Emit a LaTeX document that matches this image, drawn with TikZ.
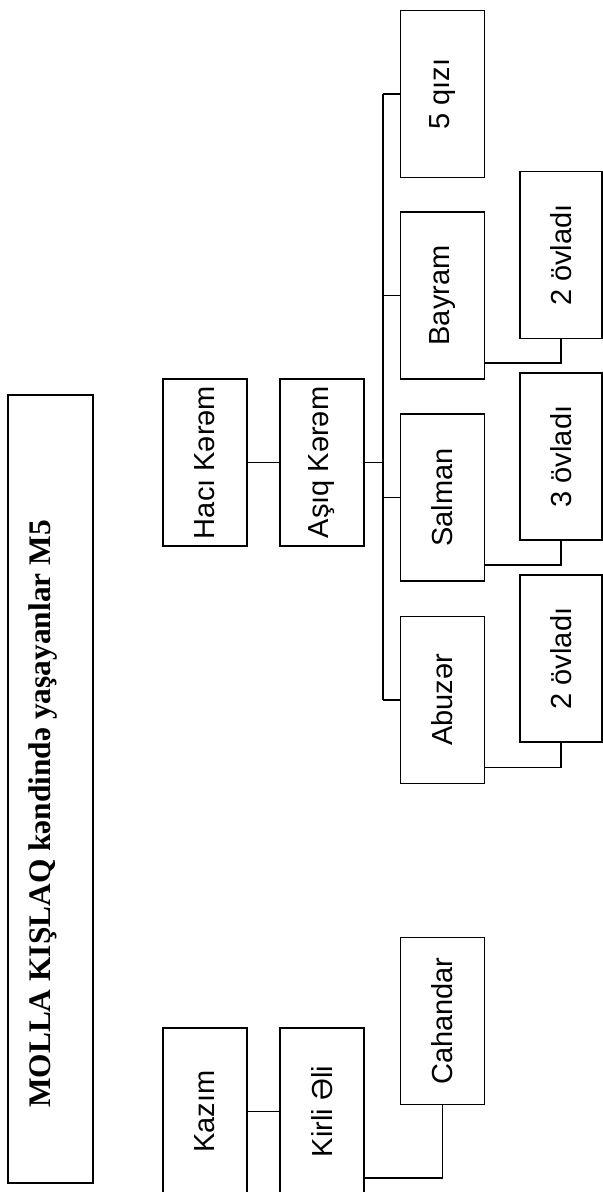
\documentclass[tikz,border=0pt]{standalone}
\usepackage{fontspec}
\setmainfont{Liberation Sans}
\newfontfamily\titlefont{Liberation Serif}
\usetikzlibrary{calc,positioning}

\tikzset{
	box/.style={draw, line width=0.9pt, minimum width=42pt, minimum height=83.5pt, inner sep=0pt,
		font=\fontsize{14.5pt}{17pt}\selectfont},
	link/.style={line width=0.8pt}
}
\newcommand{\vtext}[1]{\rotatebox{90}{#1}}

\begin{document}
\begin{tikzpicture}[x=0.5pt, y=-0.5pt]
	\useasboundingbox (0,0) rectangle (603,1192);
	\clip (0,0) rectangle (603,1192);
	
	% title
	\node[box, minimum width=42.5pt, minimum height=394pt] (titlebox) at (50.5,789) {};
	\node[rotate=90, anchor=base, inner sep=0pt, font=\titlefont\bfseries\fontsize{15.7pt}{18pt}\selectfont] (title) at (50,814) {MOLLA KIŞLAQ kəndində yaşayanlar M5};
	
	% Kərəm branch
	\node[box] (hk) at (205,462.5) {\vtext{Hacı Kərəm}};
	\node[box] (ak) at (322,462.5) {\vtext{Aşıq Kərəm}};
	\node[box] (q5) at (442.5,94) {\vtext{5 qızı}};
	\node[box] (by) at (442.5,295.5) {\vtext{Bayram}};
	\node[box] (sl) at (442.5,497.5) {\vtext{Salman}};
	\node[box] (ab) at (442.5,700) {\vtext{Abuzər}};
	\node[box, minimum width=41pt] (ovb) at (561,255) {\vtext{2 övladı}};
	\node[box, minimum width=41pt] (ovs) at (561,456.5) {\vtext{3 övladı}};
	\node[box, minimum width=41pt] (ova) at (561,658.5) {\vtext{2 övladı}};
	
	% Kazım branch
	\node[box] (kz) at (205,1111.5) {\vtext{Kazım}};
	\node[box] (ka) at (322,1111.5) {\vtext{Kirli Əli}};
	\node[box] (ch) at (442.5,1021) {\vtext{Cahandar}};
	
	\coordinate (bus) at (383,462.5);
	
	\draw[link] (hk) -- (ak);
	\draw[link] (ak) -- (bus);
	\draw[link] (bus |- q5.west) -- (bus |- ab.west);
	\foreach \c in {q5,by,sl,ab}
		\draw[link] (bus |- \c.west) -- (\c.west);
	\draw[link] ($(by.south east)+(0,-17)$) -| (ovb.south);
	\draw[link] ($(sl.south east)+(0,-17)$) -| (ovs.south);
	\draw[link] ($(ab.south east)+(0,-17)$) -| (ova.south);
	
	\draw[link] (kz) -- (ka);
	\draw[link] ($(ka.south east)+(0,-18)$) -| (ch.south);
\end{tikzpicture}
\end{document}
